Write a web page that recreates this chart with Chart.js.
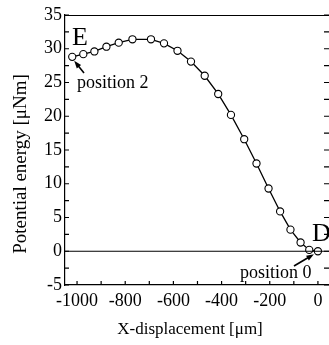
<!DOCTYPE html>
<html>
<head>
<meta charset="utf-8">
<script src="https://cdn.jsdelivr.net/npm/chart.js@4"></script>
<style>
  html, body { margin: 0; padding: 0; background: #fff; overflow: hidden; }
  canvas { display: block; }
</style>
</head>
<body>
<canvas id="energyChart" width="329" height="345"></canvas>
<script>
// values
const xDisplacement = [-1020, -974, -928, -878, -827, -770, -693, -639, -583, -527, -470,
                       -414, -361, -306, -255, -205, -157, -114, -72, -36, 0];
const potentialEnergy = [28.8, 29.2, 29.6, 30.3, 30.9, 31.4, 31.4, 30.8, 29.7, 28.1, 26.0,
                         23.3, 20.2, 16.6, 13.0, 9.3, 5.9, 3.2, 1.3, 0.2, 0];
const xTickValues = [-1000, -800, -600, -400, -200, 0];
const yTickValues = [-5, 0, 5, 10, 15, 20, 25, 30, 35];

const serif = '"Liberation Serif", "DejaVu Serif", serif';

const points = xDisplacement.map((x, i) => ({ x: x, y: potentialEnergy[i] }));

// inward ticks, frame, titles and the E / D notes
const decorPlugin = {
    id: 'decor',
    afterDraw(chart) {
        const ctx = chart.ctx;
        const area = chart.chartArea;
        const xs = chart.scales.x;
        const ys = chart.scales.y;
        ctx.save();
        ctx.strokeStyle = '#000';
        ctx.lineWidth = 1.2;

        // top frame
        ctx.beginPath();
        ctx.moveTo(area.left, area.top + 0.5);
        ctx.lineTo(area.right, area.top + 0.5);
        ctx.stroke();

        // x ticks every 100, pointing up
        for (let v = -1000; v <= 0; v += 100) {
            const px = xs.getPixelForValue(v);
            ctx.beginPath();
            ctx.moveTo(px, area.bottom);
            ctx.lineTo(px, area.bottom - 4);
            ctx.stroke();
        }
        // y ticks every 2.5, left and right
        for (let v = -5; v <= 35; v += 2.5) {
            const py = ys.getPixelForValue(v);
            ctx.beginPath();
            ctx.moveTo(area.left, py);
            ctx.lineTo(area.left + 4, py);
            ctx.moveTo(area.right, py);
            ctx.lineTo(area.right - 5, py);
            ctx.stroke();
        }

        // zero line
        const y0 = ys.getPixelForValue(0);
        ctx.beginPath();
        ctx.moveTo(area.left, y0);
        ctx.lineTo(area.right, y0);
        ctx.stroke();

        ctx.fillStyle = '#000';

        // axis titles
        ctx.font = '17px ' + serif;
        ctx.textAlign = 'center';
        ctx.textBaseline = 'middle';
        ctx.fillText('X-displacement [\u03bcm]', 190, 330);
        ctx.save();
        ctx.translate(21, 164);
        ctx.rotate(-Math.PI / 2);
        ctx.font = '19px ' + serif;
        ctx.fillText('Potential energy [\u03bcNm]', 0, 0);
        ctx.restore();

        // notes
        ctx.textAlign = 'left';
        ctx.textBaseline = 'alphabetic';
        ctx.font = '26px ' + serif;
        ctx.fillText('E', 72, 45);
        ctx.fillText('D', 312, 241);
        ctx.font = '18px ' + serif;
        ctx.fillText('position 2', 77, 88);
        ctx.fillText('position 0', 240, 278);

        // arrows
        const first = chart.getDatasetMeta(0).data[0];
        const last = chart.getDatasetMeta(0).data[xDisplacement.length - 1];
        drawArrow(ctx, 84, 73, first.x + 2, first.y + 4);
        drawArrow(ctx, 294, 266, last.x - 4, last.y + 3);
        ctx.restore();
    }
};

function drawArrow(ctx, x1, y1, x2, y2) {
    const ang = Math.atan2(y2 - y1, x2 - x1);
    const len = 8;
    ctx.lineWidth = 1.6;
    ctx.beginPath();
    ctx.moveTo(x1, y1);
    ctx.lineTo(x2 - Math.cos(ang) * 5, y2 - Math.sin(ang) * 5);
    ctx.stroke();
    ctx.beginPath();
    ctx.moveTo(x2, y2);
    ctx.lineTo(x2 - len * Math.cos(ang - 0.35), y2 - len * Math.sin(ang - 0.35));
    ctx.lineTo(x2 - len * Math.cos(ang + 0.35), y2 - len * Math.sin(ang + 0.35));
    ctx.closePath();
    ctx.fill();
}

const chartCanvas = document.getElementById('energyChart');
const energyChart = new Chart(chartCanvas.getContext('2d'), {
    type: 'scatter',
    data: {
        datasets: [
            {
                data: points,
                showLine: true,
                borderColor: '#000',
                borderWidth: 1.3,
                pointRadius: 3.6,
                pointBorderWidth: 1.1,
                pointBackgroundColor: '#fff',
                pointBorderColor: '#000'
            },
            {
                data: points,
                showLine: false,
                pointRadius: 0.9,
                pointBorderWidth: 0,
                pointBackgroundColor: '#000'
            }
        ]
    },
    options: {
        responsive: false,
        animation: false,
        events: [],
        layout: { autoPadding: false, padding: { top: 15, right: 0, left: 0, bottom: 0 } },
        plugins: { legend: { display: false }, tooltip: { enabled: false } },
        scales: {
            x: {
                type: 'linear',
                min: -1050,
                max: 46,
                afterBuildTicks: (scale) => { scale.ticks = xTickValues.map(v => ({ value: v })); },
                afterFit: (scale) => { scale.height = 60; scale.paddingLeft = 0; scale.paddingRight = 0; },
                grid: { display: true, drawOnChartArea: false, drawTicks: false },
                border: { display: true, color: '#000', width: 1.2 },
                ticks: {
                    color: '#000',
                    padding: 5,
                    maxRotation: 0,
                    autoSkip: false,
                    callback: (value) => String(value),
                    font: { family: serif, size: 18 }
                }
            },
            y: {
                type: 'linear',
                min: -5,
                max: 35,
                afterBuildTicks: (scale) => { scale.ticks = yTickValues.map(v => ({ value: v })); },
                afterFit: (scale) => { scale.width = 65; scale.paddingTop = 0; scale.paddingBottom = 0; },
                grid: { display: true, drawOnChartArea: false, drawTicks: false },
                border: { display: true, color: '#000', width: 1.2 },
                ticks: {
                    color: '#000',
                    padding: 3,
                    autoSkip: false,
                    callback: (value) => String(value),
                    font: { family: serif, size: 18 }
                }
            }
        }
    },
    plugins: [decorPlugin]
});
</script>
</body>
</html>
